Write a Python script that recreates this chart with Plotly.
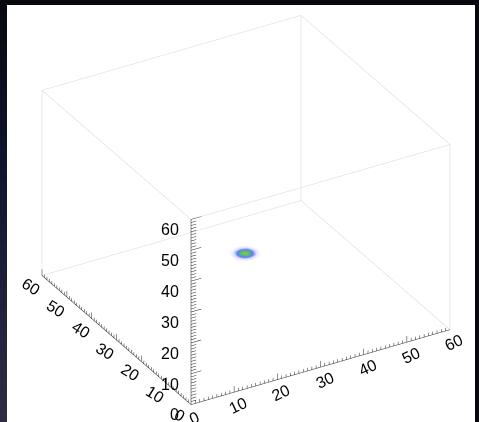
import numpy as np
import plotly.graph_objects as go

# Axis extents and tick values
AX_MIN, AX_MAX = 0, 60
MAJOR_TICKS = [0, 10, 20, 30, 40, 50, 60]
MINOR_TICKS = list(range(0, 61))
TICK_LABELS = ["0", "10", "20", "30", "40", "50", "60"]

# Intensity sampled on a small patch of the floor (z = 0)
BLOB_X = [36.7, 37.7, 38.7, 39.7, 40.7, 41.7, 42.7]
BLOB_Y = [44.2, 45.2, 46.2, 47.2, 48.2, 49.2, 50.2]
BLOB_VALUES = [
    [0.00, 0.00, 0.005, 0.01, 0.005, 0.00, 0.00],
    [0.00, 0.02, 0.09, 0.15, 0.09, 0.02, 0.00],
    [0.005, 0.09, 0.38, 0.62, 0.38, 0.09, 0.005],
    [0.01, 0.15, 0.62, 1.00, 0.62, 0.15, 0.01],
    [0.005, 0.09, 0.38, 0.62, 0.38, 0.09, 0.005],
    [0.00, 0.02, 0.09, 0.15, 0.09, 0.02, 0.00],
    [0.00, 0.00, 0.005, 0.01, 0.005, 0.00, 0.00],
]

COLORSCALE = [
    [0.00, "#ffffff"],
    [0.10, "#dcdcff"],
    [0.30, "#6a78ff"],
    [0.55, "#3fb98c"],
    [0.80, "#7fc055"],
    [1.00, "#e8903a"],
]

fig = go.Figure()

# Floor image
fig.add_trace(go.Surface(
    x=BLOB_X, y=BLOB_Y, z=np.zeros((len(BLOB_Y), len(BLOB_X))),
    surfacecolor=BLOB_VALUES, colorscale=COLORSCALE, cmin=0, cmax=1,
    showscale=False, hoverinfo="skip",
    lighting=dict(ambient=1, diffuse=0, specular=0, fresnel=0, roughness=1),
))

# Bounding box (12 edges)
lo, hi = AX_MIN, AX_MAX
corners = [(a, b, c) for a in (lo, hi) for b in (lo, hi) for c in (lo, hi)]
bx, by, bz = [], [], []
for i, p in enumerate(corners):
    for q in corners[i + 1:]:
        if sum(pa != qa for pa, qa in zip(p, q)) == 1:
            bx += [p[0], q[0], None]
            by += [p[1], q[1], None]
            bz += [p[2], q[2], None]
fig.add_trace(go.Scatter3d(x=bx, y=by, z=bz, mode="lines",
                           line=dict(color="#d6d6d6", width=1),
                           hoverinfo="skip", showlegend=False))

# Axis lines with major/minor ticks
ax_x, ax_y, ax_z = [], [], []
def seg(p, q):
    ax_x.extend([p[0], q[0], None])
    ax_y.extend([p[1], q[1], None])
    ax_z.extend([p[2], q[2], None])

seg((lo, lo, lo), (hi, lo, lo))
seg((lo, lo, lo), (lo, hi, lo))
seg((lo, lo, lo), (lo, lo, hi))
for v in MINOR_TICKS:
    major = v in MAJOR_TICKS
    tz = 2.0 if major else 1.0
    tx = 2.4 if major else 1.2
    seg((v, lo, lo), (v, lo, tz))      # x axis ticks
    seg((lo, v, lo), (lo, v, tz))      # y axis ticks
    seg((lo, lo, v), (tx, lo, v))      # z axis ticks
fig.add_trace(go.Scatter3d(x=ax_x, y=ax_y, z=ax_z, mode="lines",
                           line=dict(color="#222222", width=1),
                           hoverinfo="skip", showlegend=False))

label_font = dict(family="Liberation Sans", size=16, color="black")
annotations = []
for v, t in zip(MAJOR_TICKS, TICK_LABELS):
    annotations.append(dict(x=v, y=lo, z=lo, text=t, showarrow=False,
                            xanchor="center", yanchor="middle",
                            xshift=4, yshift=-13, textangle=-25, font=label_font))
    annotations.append(dict(x=lo, y=v, z=lo, text=t, showarrow=False,
                            xanchor="center", yanchor="middle",
                            xshift=-11, yshift=-11, textangle=32, font=label_font))
    annotations.append(dict(x=lo, y=lo, z=v, text=t, showarrow=False,
                            xanchor="right", yanchor="middle",
                            xshift=-10, yshift=-10, font=label_font))

hidden = dict(visible=False, range=[lo, hi], showspikes=False)
fig.update_layout(
    width=479, height=422,
    margin=dict(l=0, r=0, t=0, b=0),
    paper_bgcolor="white",
    showlegend=False,
    scene=dict(
        xaxis=hidden, yaxis=hidden, zaxis=hidden,
        aspectmode="manual", aspectratio=dict(x=1.452, y=1.4455, z=1.0387),
        camera=dict(projection=dict(type="orthographic"),
                    eye=dict(x=-0.4332 * 2, y=-0.7494 * 2, z=0.5008 * 2),
                    up=dict(x=0, y=0, z=1), center=dict(x=0, y=0, z=0)),
        domain=dict(x=[0.029, 0.998], y=[0.0135, 0.9905]),
        annotations=annotations,
        bgcolor="rgba(0,0,0,0)",
    ),
)

# Window frame around the white canvas
shapes = [
    dict(type="rect", xref="paper", yref="paper", x0=0, x1=1, y0=1 - 5 / 422, y1=1,
         fillcolor="#07080e", line_width=0, layer="above"),
    dict(type="rect", xref="paper", yref="paper", x0=475 / 479, x1=1, y0=0, y1=1,
         fillcolor="#07080e", line_width=0, layer="above"),
]
stops = [(0.0, (7, 8, 15)), (0.45, (17, 23, 50)), (1.0, (46, 44, 66))]
n = 40
for k in range(n):
    t = (k + 0.5) / n
    for (t0, c0), (t1, c1) in zip(stops[:-1], stops[1:]):
        if t0 <= t <= t1:
            f = (t - t0) / (t1 - t0)
            c = tuple(int(round(a + (b - a) * f)) for a, b in zip(c0, c1))
    shapes.append(dict(type="rect", xref="paper", yref="paper",
                       x0=0, x1=7 / 479,
                       y0=max(0, 1 - (k + 1.6) / n), y1=1 - k / n,
                       fillcolor="rgb(%d,%d,%d)" % c, line_width=0, layer="above"))
fig.update_layout(shapes=shapes)

fig.write_html("out.html")
